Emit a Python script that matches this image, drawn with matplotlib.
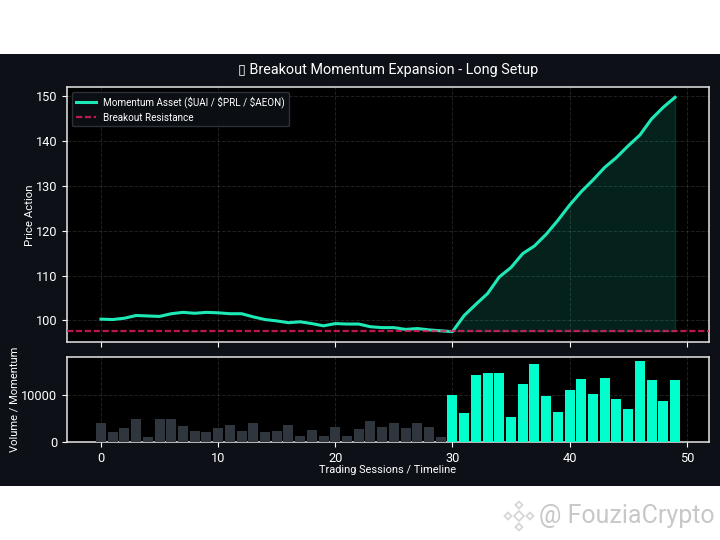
import matplotlib
matplotlib.use("Agg")
import matplotlib.pyplot as plt
from matplotlib.patches import Rectangle, RegularPolygon
import numpy as np

plt.rcParams['font.family'] = ['Roboto', 'DejaVu Sans']

price = [100.3,100.2,100.5,101.1,101.0,100.9,101.5,101.8,101.6,101.8,101.7,101.5,101.5,100.8,100.2,99.9,99.5,99.7,99.3,98.8,99.3,99.2,99.2,98.6,98.4,98.4,98.0,98.2,97.9,97.7,
         97.5,101.1,103.6,106.0,109.7,111.8,114.9,116.6,119.2,122.3,125.7,128.7,131.3,134.1,136.3,138.9,141.3,144.9,147.5,149.7]
volume = [4080,2040,2890,4790,990,4860,4860,3450,2250,2040,2890,3590,2390,4080,2040,2390,3520,1270,2600,1270,3240,1270,2680,4500,3240,3940,2960,3940,3100,990,
          10000,6200,14080,14500,14500,5210,12180,16400,9650,6270,11050,13170,10200,13380,9010,6900,17040,12960,8730,13030]
resistance = 97.6
breakout_start = 30

TEAL = '#1de9b6'
BAR_TEAL = '#00ffcc'
GREY = '#30363d'
PINK = '#e91e63'
DARK = '#0d1117'

sessions = np.arange(len(price))
price_a = np.array(price)

fig = plt.figure(figsize=(7.2, 5.4), dpi=100, facecolor='white')
W, H = 720, 540
fig.patches.append(Rectangle((0, 54/H), 1, 432/H, transform=fig.transFigure, facecolor=DARK, edgecolor='none', zorder=-10))

ax1 = fig.add_axes([67/W, 1-342/H, (709-67)/W, (342-87)/H], facecolor='black')
ax2 = fig.add_axes([67/W, 1-442/H, (709-67)/W, (442-357)/H], facecolor='black', sharex=ax1)

for ax in (ax1, ax2):
    ax.grid(True, color='#ffffff', alpha=0.13, linestyle='--', linewidth=0.7)
    ax.set_axisbelow(True)
    ax.tick_params(colors='white', labelsize=9.2, length=3.5, width=0.8)
    for s in ax.spines.values():
        s.set_color('#e6e6e6')
        s.set_linewidth(1.1)

ax1.plot(sessions, price_a, color=TEAL, linewidth=2.2, label='Momentum Asset ($UAI / $PRL / $AEON)', zorder=4)
ax1.axhline(resistance, color=PINK, linewidth=1.6, alpha=0.8, dashes=(2.8, 1.2), label='Breakout Resistance', zorder=5)
mask = sessions >= breakout_start
ax1.fill_between(sessions[mask], resistance, price_a[mask], color=TEAL, alpha=0.15, zorder=2)
ax1.set_ylim(95.2, 152)
ax1.set_xlim(-2.9, 51.9)
ax1.set_yticks([100, 110, 120, 130, 140, 150])
ax1.set_ylabel('Price Action', color='white', fontsize=8.2)
ax1.yaxis.set_label_coords(35/W, 1-215/H, transform=fig.transFigure)
ax1.tick_params(labelbottom=False)
leg = ax1.legend(loc='upper left', fontsize=7.1, facecolor=DARK, edgecolor='#30363d', framealpha=0.9,
                 labelcolor='white', borderaxespad=0.5, labelspacing=0.5)
ax1.set_title('\u25af Breakout Momentum Expansion - Long Setup', color='white', fontsize=10.4, pad=9.5)

colors = [BAR_TEAL if i >= breakout_start else GREY for i in sessions]
ax2.bar(sessions, volume, width=0.85, color=colors, zorder=3)
ax2.set_ylim(0, 17900)
ax2.set_yticks([0, 10000])
ax2.set_xticks([0, 10, 20, 30, 40, 50])
ax2.set_ylabel('Volume / Momentum', color='white', fontsize=8.0)
ax2.yaxis.set_label_coords(20/W, 1-399/H, transform=fig.transFigure)
ax2.set_xlabel('Trading Sessions / Timeline', color='white', fontsize=7.9, labelpad=0)

fig.text(539/W, 1-516/H, '@ FouziaCrypto', color='#c8c8c8', fontsize=18, va='center', ha='left')
for cx, cy, r in [(519, 516, 5), (508, 516, 3.5), (530, 516, 3.5), (519, 505, 3.5), (519, 527, 3.5)]:
    fig.patches.append(RegularPolygon((cx/W*7.2*100, (1-cy/H)*5.4*100), 4, radius=r, orientation=0,
                                      transform=None, facecolor='none', edgecolor='#d4d4d4', linewidth=1.2))

fig.savefig('out.png', dpi=100, facecolor=fig.get_facecolor())
